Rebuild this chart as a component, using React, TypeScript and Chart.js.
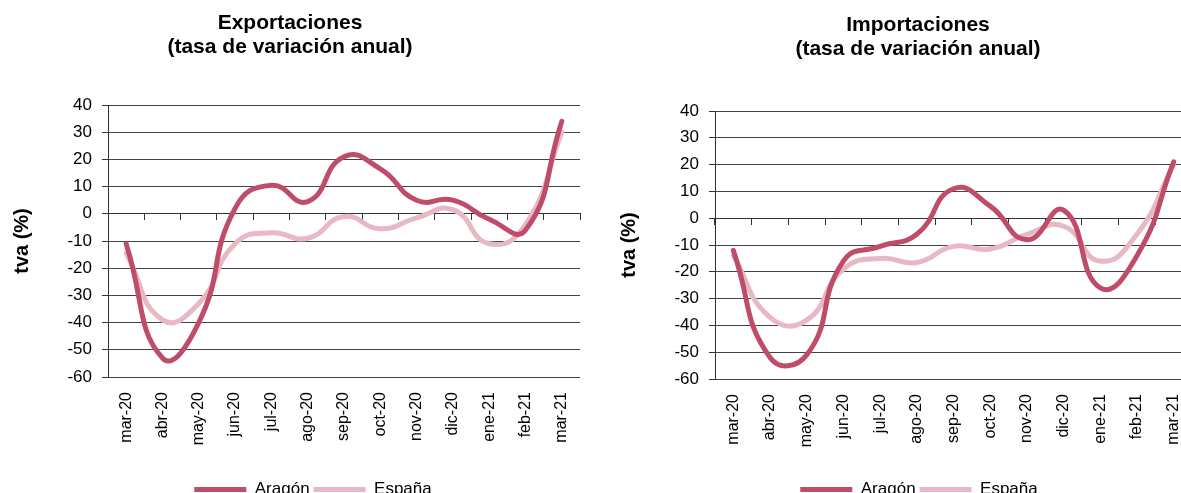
import React, { useEffect, useRef } from "react";
import { Chart, registerables } from "chart.js";

Chart.register(...registerables);

const categories = [
  "mar-20", "abr-20", "may-20", "jun-20", "jul-20", "ago-20", "sep-20",
  "oct-20", "nov-20", "dic-20", "ene-21", "feb-21", "mar-21",
];

const exportAragon = [-11, -53, -40, 2, 10.5, 4.5, 21, 16.5, 5, 5, -2, -6, 34];
const exportEspana = [-14.5, -39, -33, -11, -7, -9, -1, -5.5, -1.5, 1.5, -11, -4, 30];

const importAragon = [-12, -52, -51, -16, -10.5, -6, 11, 4.5, -8, 3, -26, -14, 21];
const importEspana = [-14, -37, -38, -19, -15, -16.5, -10.5, -11.5, -6, -3, -16, -6, 20];

const yMin = -60;
const yMax = 40;
const yStep = 10;

const seriesNames = ["Aragón", "España"];
const titles = [
  ["Exportaciones", "(tasa de variación anual)"],
  ["Importaciones", "(tasa de variación anual)"],
];
const yTitle = "tva (%)";

const ARAGON_COLOR = "#BF4C69";
const ESPANA_COLOR = "#E8B8C3";
const FONT = "'Liberation Sans', Arial, sans-serif";
const NARROW = "'Liberation Sans Narrow', 'Arial Narrow', 'Liberation Sans', sans-serif";

type Props = {
  aragon: number[];
  espana: number[];
  width: number;
  height: number;
  padTop: number;
  rightSpace: number;
  xAxisHeight: number;
};

function LineChart({ aragon, espana, width, height, padTop, rightSpace, xAxisHeight }: Props) {
  const ref = useRef<HTMLCanvasElement>(null);
  useEffect(() => {
    const mk = (label: string, data: number[], color: string) => ({
      label,
      data,
      borderColor: color,
      backgroundColor: color,
      borderWidth: 5,
      pointRadius: 0,
      pointHoverRadius: 0,
      tension: 0.5,
      borderCapStyle: "round" as const,
      borderJoinStyle: "round" as const,
      fill: false,
      yAxisID: "y",
    });
    const chart = new Chart(ref.current!, {
      type: "line",
      data: {
        labels: categories,
        datasets: [
          mk(seriesNames[0], aragon, ARAGON_COLOR),
          mk(seriesNames[1], espana, ESPANA_COLOR),
        ],
      },
      options: {
        responsive: false,
        animation: false,
        devicePixelRatio: 1,
        layout: { padding: { top: padTop, right: 0, left: 0, bottom: 0 } },
        plugins: {
          title: { display: false },
          tooltip: { enabled: false },
          legend: {
            position: "bottom",
            labels: {
              usePointStyle: true,
              pointStyle: "line",
              pointStyleWidth: 52,
              boxHeight: 5,
              padding: 4,
              color: "#000",
              font: { family: NARROW, size: 17 },
            },
          },
        },
        scales: {
          x: {
            type: "category",
            position: "bottom",
            offset: true,
            border: { display: false },
            grid: { display: false, drawTicks: false },
            ticks: {
              autoSkip: false,
              minRotation: 90,
              maxRotation: 90,
              padding: 15,
              color: "#000",
              font: { family: FONT, size: 16 },
            },
            afterFit: (s: any) => {
              s.height = xAxisHeight;
            },
          },
          x0: {
            type: "category",
            position: { y: 0 },
            offset: true,
            border: { display: true, color: "#333", width: 1 },
            grid: {
              display: true,
              drawOnChartArea: false,
              drawTicks: true,
              tickLength: 6,
              tickColor: "#333",
              offset: true,
            },
            ticks: { display: false },
          },
          y: {
            type: "linear",
            position: "left",
            min: yMin,
            max: yMax,
            ticks: {
              stepSize: yStep,
              padding: 10,
              color: "#000",
              font: { family: FONT, size: 17 },
            },
            border: { display: true, color: "#333", width: 1 },
            grid: {
              color: "#444",
              borderDash: [1, 1],
              tickBorderDash: [],
              tickColor: "#333",
              tickLength: 6,
            },
            title: {
              display: true,
              text: yTitle,
              color: "#000",
              font: { family: FONT, size: 20, weight: "bold" },
              padding: 10,
            },
            afterFit: (s: any) => {
              s.width = 108;
            },
          },
          yRight: {
            type: "linear",
            position: "right",
            min: yMin,
            max: yMax,
            border: { display: false },
            grid: { display: false, drawTicks: false, drawOnChartArea: false },
            ticks: { display: false },
            afterFit: (s: any) => {
              s.width = rightSpace;
            },
          },
        },
      } as any,
    });
    return () => chart.destroy();
  }, []);
  return (
    <canvas
      ref={ref}
      width={width}
      height={height}
      style={{ width, height, display: "block" }}
    />
  );
}

function Title({ lines, cx, top }: { lines: string[]; cx: number; top: number }) {
  return (
    <div
      style={{
        position: "absolute",
        left: cx - 250,
        top,
        width: 500,
        textAlign: "center",
        fontFamily: FONT,
        fontWeight: "bold",
        fontSize: 21,
        lineHeight: "24px",
        color: "#000",
      }}
    >
      {lines.map((l, i) => (
        <div key={i}>{l}</div>
      ))}
    </div>
  );
}

export default function App() {
  return (
    <div
      style={{
        position: "absolute",
        left: 0,
        top: 0,
        width: 1181,
        height: 493,
        overflow: "hidden",
        background: "#fff",
      }}
    >
      <div style={{ position: "absolute", left: 0, top: 0 }}>
        <LineChart
          aragon={exportAragon}
          espana={exportEspana}
          width={626}
          height={508}
          padTop={105}
          rightSpace={46}
          xAxisHeight={100}
        />
      </div>
      <div style={{ position: "absolute", left: 607, top: 0 }}>
        <LineChart
          aragon={importAragon}
          espana={importEspana}
          width={624}
          height={508}
          padTop={111}
          rightSpace={39}
          xAxisHeight={98}
        />
      </div>
      <Title lines={titles[0]} cx={290} top={10} />
      <Title lines={titles[1]} cx={918} top={12} />
    </div>
  );
}
